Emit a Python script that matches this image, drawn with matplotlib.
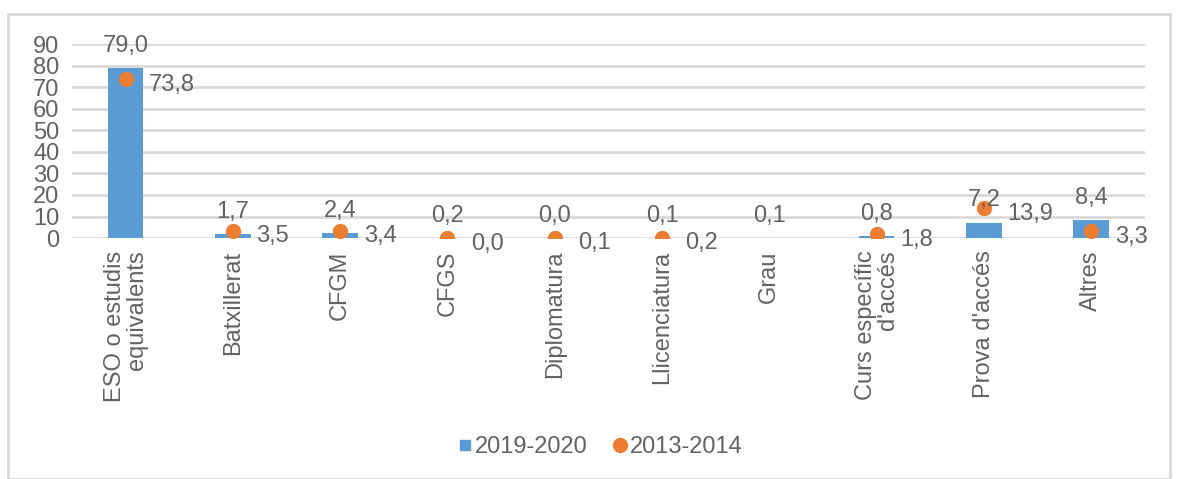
import numpy as np
import matplotlib
matplotlib.use("Agg")
import matplotlib.pyplot as plt
from matplotlib.patches import Rectangle
from matplotlib.lines import Line2D

categories = ["ESO o estudis\nequivalents", "Batxillerat", "CFGM", "CFGS",
              "Diplomatura", "Llicenciatura", "Grau", "Curs específic\nd'accés",
              "Prova d'accés", "Altres"]
serie_2019 = [79.0, 1.7, 2.4, 0.2, 0.0, 0.1, 0.1, 0.8, 7.2, 8.4]
serie_2013 = [73.8, 3.5, 3.4, 0.0, 0.1, 0.2, np.nan, 1.8, 13.9, 3.3]
yticks = [0, 10, 20, 30, 40, 50, 60, 70, 80, 90]

BLUE = "#5B9BD5"
ORANGE = "#ED7D31"
GRAY = "#626262"
GRID = "#D9D9D9"
FS = 17

plt.rcParams["font.family"] = ["Liberation Sans", "DejaVu Sans"]

fig = plt.figure(figsize=(11.79, 4.79), dpi=100)
ax = fig.add_axes([0.061, 0.503, 0.910, 0.405])

x = np.arange(len(categories))
ax.bar(x, serie_2019, width=0.33, color=BLUE, zorder=2)
ax.plot(x, serie_2013, "o", color=ORANGE, markersize=10, zorder=3)

def fmt(v):
    return f"{v:.1f}".replace(".", ",")

for xi, v in zip(x, serie_2019):
    ax.annotate(fmt(v), (xi, v), xytext=(0, 8), textcoords="offset points",
                ha="center", va="bottom", fontsize=FS, color=GRAY)
for xi, v in zip(x, serie_2013):
    if np.isnan(v):
        continue
    ax.annotate(fmt(v), (xi, v), xytext=(17, -4), textcoords="offset points",
                ha="left", va="center", fontsize=FS, color=GRAY)

ax.set_xlim(-0.5, len(categories) - 0.5)
ax.set_ylim(0, 90)
ax.set_yticks(yticks)
ax.set_xticks(x)
ax.set_xticklabels(categories, rotation=90, rotation_mode="anchor",
                   ha="right", va="center", fontsize=FS, color=GRAY,
                   linespacing=1.0)
ax.tick_params(axis="y", labelsize=FS, labelcolor=GRAY, length=0, pad=9)
ax.tick_params(axis="x", length=0, pad=9)
ax.grid(axis="y", color=GRID, linewidth=2, zorder=0)
ax.set_axisbelow(True)
for s in ax.spines.values():
    s.set_visible(False)

handles = [Line2D([], [], marker="s", linestyle="none", color=BLUE, markersize=7),
           Line2D([], [], marker="o", linestyle="none", color=ORANGE, markersize=10)]
fig.legend(handles, ["2019-2020", "2013-2014"], loc="center",
           bbox_to_anchor=(0.508, 0.067), ncol=2, frameon=False,
           fontsize=FS, labelcolor=GRAY, handletextpad=0.0,
           columnspacing=1.0, handlelength=0.8)

fig.patches.append(Rectangle((0.007, 0.0), 0.985, 0.971, transform=fig.transFigure,
                             fill=False, edgecolor=GRID, linewidth=2))

fig.savefig("out.png", dpi=100)
